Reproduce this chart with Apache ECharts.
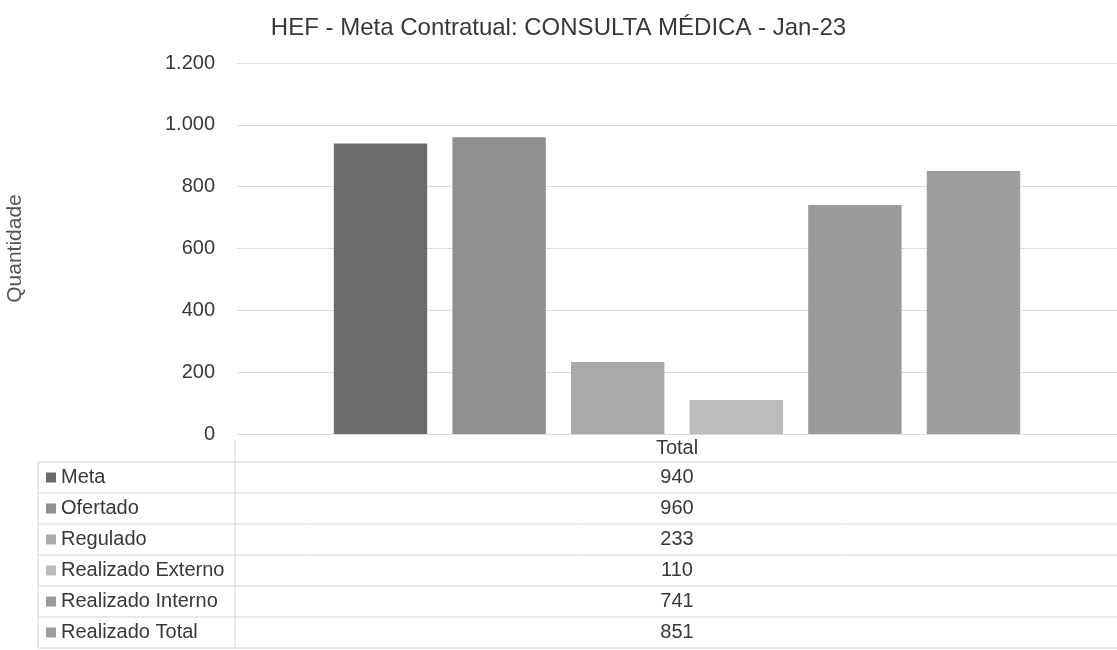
<!DOCTYPE html>
<html><head><meta charset="utf-8">
<script src="https://cdn.jsdelivr.net/npm/echarts@6/dist/echarts.min.js"></script>
<style>html,body{margin:0;padding:0;background:#fff}#c{width:1117px;height:650px}</style>
</head><body><div id="c"></div>
<script>
const titleText = 'HEF - Meta Contratual: CONSULTA MÉDICA - Jan-23';
const categories = ['Total'];
const seriesNames = ['Meta', 'Ofertado', 'Regulado', 'Realizado Externo', 'Realizado Interno', 'Realizado Total'];
const seriesValues = [[940], [960], [233], [110], [741], [851]];
const seriesColors = ['#6c6c6c', '#8f8f8f', '#aaaaaa', '#bcbcbc', '#9a9a9a', '#9d9d9d'];
const yTicks = [0, 200, 400, 600, 800, 1000, 1200];

const FONT = 'Liberation Sans, Arial, sans-serif';
const chart = echarts.init(document.getElementById('c'));
const fmt = v => String(v).replace(/\B(?=(\d{3})+(?!\d))/g, '.');

const option = {
  animation: false,
  textStyle: { fontFamily: FONT },
  title: { text: titleText, left: 'center', top: 11,
    textStyle: { fontFamily: FONT, fontSize: 24, fontWeight: 'normal', color: '#383838' } },
  grid: { left: 237, right: 0, top: 63, bottom: 216, containLabel: false, outerBoundsMode: 'none' },
  xAxis: { type: 'category', data: categories,
    axisLine: { show: false }, axisTick: { show: false },
    axisLabel: { margin: 4, fontSize: 20, color: '#383838', fontFamily: FONT } },
  yAxis: { type: 'value', min: yTicks[0], max: yTicks[yTicks.length - 1], interval: 200,
    name: 'Quantidade', nameLocation: 'middle', nameGap: 211, nameRotate: 90,
    nameTextStyle: { fontSize: 21, color: '#555', fontFamily: FONT },
    axisLine: { show: false }, axisTick: { show: false },
    axisLabel: { margin: 22, fontSize: 20, color: '#383838', fontFamily: FONT, formatter: fmt },
    splitLine: { lineStyle: { color: '#dcdcdc' } } },
  series: seriesNames.map((n, i) => ({
    name: n, type: 'bar', data: seriesValues[i],
    itemStyle: { color: seriesColors[i] },
    barGap: '27%', barCategoryGap: '22%'
  }))
};
chart.setOption(option);

// data table below the plot
const cx = chart.convertToPixel({ xAxisIndex: 0 }, categories[0]);
const rowTop = 462, rowH = 31, leftX = 38, divX = 235, W = 1117;
const g = [];
for (let i = 0; i <= seriesNames.length; i++) {
  const y = rowTop + i * rowH;
  g.push({ type: 'line', shape: { x1: leftX, y1: y, x2: W, y2: y }, style: { stroke: '#d4d4d4', lineWidth: 1 } });
}
g.push({ type: 'line', shape: { x1: leftX, y1: rowTop, x2: leftX, y2: rowTop + rowH * seriesNames.length }, style: { stroke: '#d4d4d4', lineWidth: 1 } });
g.push({ type: 'line', shape: { x1: divX, y1: 440, x2: divX, y2: rowTop + rowH * seriesNames.length }, style: { stroke: '#d4d4d4', lineWidth: 1 } });
seriesNames.forEach((n, i) => {
  const yc = rowTop + i * rowH + rowH / 2;
  g.push({ type: 'rect', shape: { x: 46, y: yc - 5, width: 10, height: 10 }, style: { fill: seriesColors[i] } });
  g.push({ type: 'text', style: { text: n, x: 61, y: yc, verticalAlign: 'middle', font: '20px ' + FONT, fill: '#383838' } });
  g.push({ type: 'text', style: { text: fmt(seriesValues[i][0]), x: cx, y: yc, align: 'center', verticalAlign: 'middle', font: '20px ' + FONT, fill: '#383838' } });
});
chart.setOption({ graphic: g });
</script></body></html>
